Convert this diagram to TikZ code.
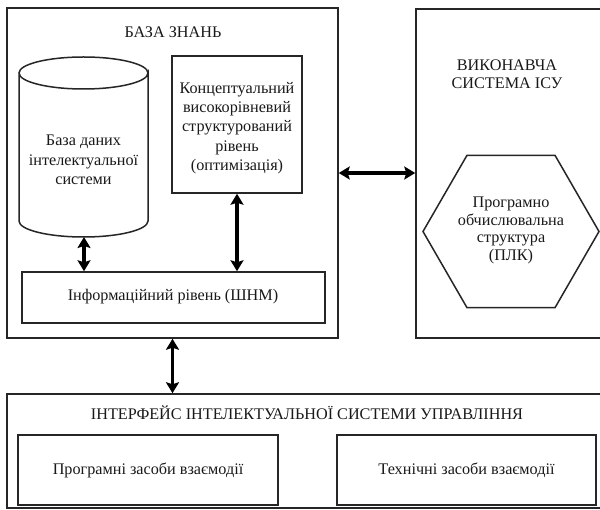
\documentclass[tikz,border=0pt]{standalone}
\usepackage{fontspec}
\setmainfont{Liberation Serif}
\usetikzlibrary{arrows.meta,shapes.geometric}
\begin{document}
\begin{tikzpicture}[x=1pt,y=-1pt,
  box/.style={draw=black!85, line width=1.5pt, inner sep=0pt},
  lbl/.style={font=\fontsize{16.2}{19.3}\selectfont, align=center, text=black!90, inner sep=0pt},
  biarrow/.style={{Stealth[length=11pt,width=13pt,inset=2pt]}-{Stealth[length=11pt,width=13pt,inset=2pt]}, line width=3.2pt, black}]
\clip (0,0) rectangle (600,510);
\fill[white] (0,0) rectangle (600,510);
% main boxes
\node[box, minimum width=331pt, minimum height=330pt] (kb) at (172.5,173) {};
\node[box, minimum width=186pt, minimum height=329pt] (exec) at (509,173.5) {};
\node[box, minimum width=595pt, minimum height=114pt] (iface) at (304.5,451) {};
% knowledge base contents
\node[lbl] (kbtitle) at (173,32) {БАЗА ЗНАНЬ};
\draw[draw=black!85, line width=1.5pt]
  (19,73) -- (19,221) arc[start angle=180, end angle=360, x radius=64.5, y radius=-16]
  -- (148,73) arc[start angle=0, end angle=360, x radius=64.5, y radius=16];
\coordinate (dbbot) at (84,237);
\node[lbl] (db) at (83.5,160) {База даних\\інтелектуальної\\системи};
\node[box, minimum width=130pt, minimum height=137pt] (concept) at (237,124.5) {};
\node[lbl] (concepttext) at (237,128) {Концептуальний\\високорівневий\\структурований\\рівень\\(оптимізація)};
\node[box, minimum width=303pt, minimum height=51pt] (info) at (173.5,297.5) {};
\node[lbl] (infotext) at (173,297) {Інформаційний рівень (ШНМ)};
% executive system
\node[lbl, font=\fontsize{16.2}{18}\selectfont] (exectitle) at (507,74) {ВИКОНАВЧА\\СИСТЕМА ІСУ};
\node[regular polygon, regular polygon sides=6, minimum size=176pt, draw=black!85, line width=1.5pt, inner sep=0pt] (hex) at (511,231.5) {};
\node[lbl, font=\fontsize{16.2}{17.8}\selectfont] (hextext) at (511,230.5) {Програмно\\обчислювальна\\структура\\(ПЛК)};
% interface
\node[lbl] (ifacetitle) at (307,413) {ІНТЕРФЕЙС ІНТЕЛЕКТУАЛЬНОЇ СИСТЕМИ УПРАВЛІННЯ};
\node[box, minimum width=260pt, minimum height=70pt] (soft) at (148,470) {};
\node[lbl] (softtext) at (148,470) {Програмні засоби взаємодії};
\node[box, minimum width=259pt, minimum height=70pt] (hard) at (466.5,470) {};
\node[lbl] (hardtext) at (466.5,470) {Технічні засоби взаємодії};
% arrows
\draw[biarrow] (dbbot) -- (dbbot |- info.north);
\draw[biarrow] (concept.south) -- (concept.south |- info.north);
\draw[biarrow] (kb.east) -- (kb.east -| exec.west);
\draw[biarrow] (kb.south) -- (kb.south |- iface.north);
\end{tikzpicture}
\end{document}
